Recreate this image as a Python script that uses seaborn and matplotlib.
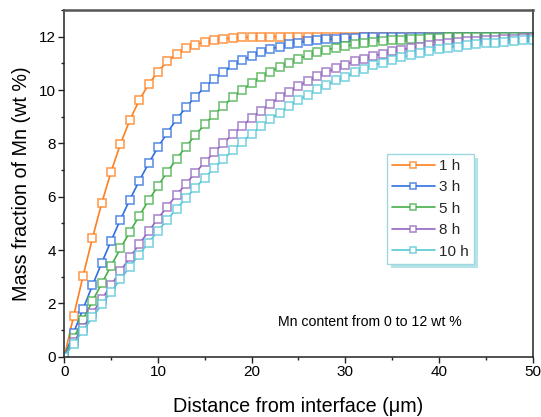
import numpy as np
import pandas as pd
import matplotlib
matplotlib.use("Agg")
import matplotlib.pyplot as plt
import seaborn as sns
from matplotlib.patches import Rectangle
from matplotlib.transforms import IdentityTransform
from matplotlib.ticker import MultipleLocator

# ---- data ----
distance = list(range(0, 51))

mn_1h = [0.00, 1.53, 3.02, 4.44, 5.76, 6.94, 7.98, 8.87, 9.62, 10.21, 10.69,
         11.07, 11.35, 11.56, 11.70, 11.81, 11.88, 11.92, 11.95, 11.97, 11.98,
         11.99, 12.00, 12.00, 12.00, 12.00, 12.00, 12.00, 12.00, 12.00, 12.00,
         12.00, 12.00, 12.00, 12.00, 12.00, 12.00, 12.00, 12.00, 12.00, 12.00,
         12.00, 12.00, 12.00, 12.00, 12.00, 12.00, 12.00, 12.00, 12.00, 12.00]

mn_3h = [0.00, 0.90, 1.79, 2.67, 3.52, 4.35, 5.14, 5.89, 6.59, 7.25, 7.85,
         8.40, 8.91, 9.35, 9.75, 10.11, 10.41, 10.68, 10.92, 11.11, 11.28,
         11.43, 11.54, 11.63, 11.72, 11.78, 11.83, 11.87, 11.90, 11.92, 11.94,
         11.96, 11.97, 11.98, 11.98, 11.99, 11.99, 12.00, 12.00, 12.00, 12.00,
         12.00, 12.00, 12.00, 12.00, 12.00, 12.00, 12.00, 12.00, 12.00, 12.00]

mn_5h = [0.00, 0.70, 1.39, 2.08, 2.75, 3.41, 4.06, 4.68, 5.28, 5.86, 6.40,
         6.93, 7.42, 7.88, 8.31, 8.71, 9.08, 9.41, 9.72, 10.00, 10.25,
         10.48, 10.69, 10.87, 11.03, 11.18, 11.30, 11.41, 11.50, 11.59, 11.65,
         11.71, 11.76, 11.81, 11.84, 11.87, 11.89, 11.92, 11.93, 11.95, 11.96,
         11.97, 11.97, 11.98, 11.98, 11.99, 11.99, 11.99, 11.99, 12.00, 12.00]

mn_8h = [0.00, 0.55, 1.09, 1.63, 2.16, 2.69, 3.21, 3.72, 4.22, 4.70, 5.18,
         5.63, 6.07, 6.49, 6.90, 7.29, 7.66, 8.01, 8.34, 8.65, 8.95,
         9.23, 9.48, 9.72, 9.94, 10.15, 10.33, 10.51, 10.67, 10.81, 10.95,
         11.07, 11.18, 11.28, 11.36, 11.45, 11.51, 11.58, 11.63, 11.68, 11.73,
         11.76, 11.80, 11.83, 11.85, 11.88, 11.89, 11.91, 11.92, 11.94, 11.95]

mn_10h = [0.00, 0.49, 0.98, 1.47, 1.96, 2.43, 2.91, 3.37, 3.83, 4.28, 4.71,
          5.14, 5.55, 5.95, 6.34, 6.71, 7.07, 7.41, 7.74, 8.06, 8.35,
          8.64, 8.91, 9.15, 9.39, 9.62, 9.82, 10.02, 10.19, 10.36, 10.48,
          10.66, 10.79, 10.92, 11.03, 11.13, 11.23, 11.31, 11.39, 11.46, 11.52,
          11.58, 11.63, 11.67, 11.72, 11.75, 11.78, 11.81, 11.83, 11.86, 11.88]

series_labels = ["1 h", "3 h", "5 h", "8 h", "10 h"]
series_values = [mn_1h, mn_3h, mn_5h, mn_8h, mn_10h]
colors = ["#ff7f1e", "#2f6fe0", "#45ae4b", "#9266c0", "#56c6d6"]

annotation = "Mn content from 0 to 12 wt %"
x_label = "Distance from interface (\u03bcm)"
y_label = "Mass fraction of Mn (wt %)"

# ---- style ----
sns.set_theme(style="ticks")
plt.rcParams["font.family"] = ["Liberation Sans", "DejaVu Sans"]

W, H = 541, 417
fig = plt.figure(figsize=(W / 100, H / 100), dpi=100)
left, right, top, bottom = 64.3, 532.5, 10.0, 356.7
ax = fig.add_axes([left / W, 1 - bottom / H, (right - left) / W, (bottom - top) / H])

for lab, vals, col in zip(series_labels, series_values, colors):
    df = pd.DataFrame({"Distance": distance, "Mn": vals})
    rgba = matplotlib.colors.to_rgba(col, 0.75)
    sns.lineplot(data=df, x="Distance", y="Mn", ax=ax, color=col, label=lab,
                 linewidth=1.2, marker="s", markersize=5.6,
                 markerfacecolor="white", markeredgecolor=rgba,
                 markeredgewidth=1.2)

ax.set_xlim(0, 50)
ax.set_ylim(0, 13)
ax.xaxis.set_major_locator(MultipleLocator(10))
ax.xaxis.set_minor_locator(MultipleLocator(5))
ax.yaxis.set_major_locator(MultipleLocator(2))
ax.yaxis.set_minor_locator(MultipleLocator(1))
ax.tick_params(which="major", direction="out", length=4, width=1.0,
               labelsize=11, colors="#222222", labelcolor="black", pad=2)
ax.tick_params(which="minor", direction="out", length=2.4, width=1.0, colors="#222222")

ax.set_xlabel(x_label, fontsize=14.2, labelpad=13, color="black")
ax.set_ylabel(y_label, fontsize=14.2, labelpad=6, color="black")

for s in ["left", "bottom", "right"]:
    ax.spines[s].set_color("#222222")
    ax.spines[s].set_linewidth(1.1)
ax.spines["top"].set_color("#555555")
ax.spines["top"].set_linewidth(1.8)

ax.text((278 - left) / (right - left) * 50, (bottom - 322) / (bottom - top) * 13,
        annotation, fontsize=10.2, va="center", ha="left", color="black")

leg = ax.legend(loc="upper left",
                bbox_to_anchor=((386.7 - left) / (right - left), (bottom - 153.5) / (bottom - top)),
                borderaxespad=0, frameon=True, fancybox=False, fontsize=11,
                handlelength=2.8, handletextpad=0.25, labelspacing=0.49,
                borderpad=0.35, edgecolor="#9fd8e0", framealpha=1)
leg.get_frame().set_linewidth(1.0)
for h in leg.get_lines():
    h.set_markersize(4.6)

fig.canvas.draw()
bb = leg.get_window_extent()
off = 4.0
shadow = Rectangle((bb.x0 + off, bb.y0 - off), bb.width, bb.height,
                   transform=IdentityTransform(), facecolor="#b5e3ea",
                   edgecolor="none", zorder=leg.get_zorder() - 0.1, clip_on=False)
ax.add_patch(shadow)

fig.savefig("out.png", dpi=100)
